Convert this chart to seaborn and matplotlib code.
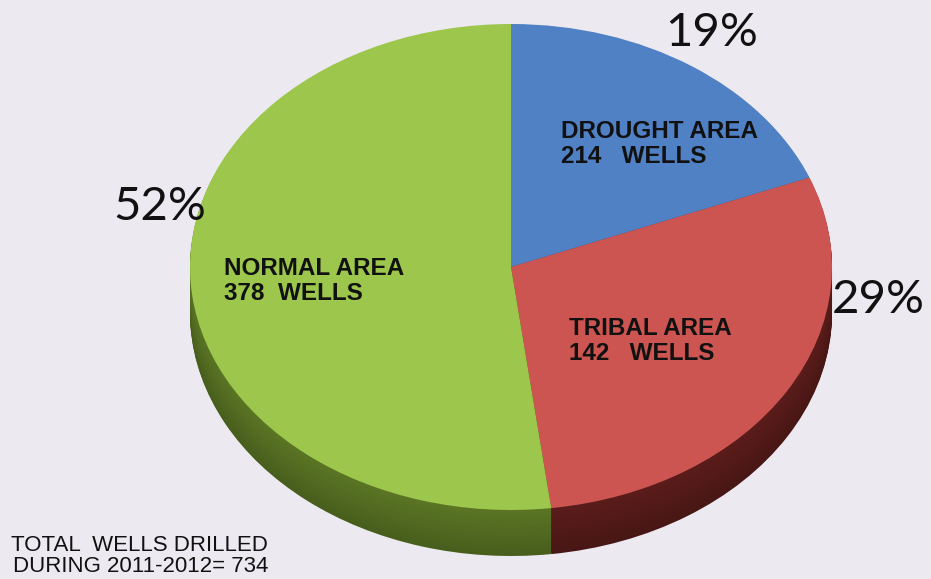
import numpy as np
import matplotlib
matplotlib.use("Agg")
import matplotlib.pyplot as plt
import seaborn as sns

# Wells drilled during 2011-2012, by area
areas = ["DROUGHT AREA", "TRIBAL AREA", "NORMAL AREA"]
shares = [19, 29, 52]
share_labels = ["19%", "29%", "52%"]
well_labels = ["214   WELLS", "142   WELLS", "378  WELLS"]
total_wells = 734

top_colors = ["#4f81c4", "#cd5551", "#9cc64c"]
side_colors = ["#2d4c77", "#5a1c1a", "#5a7524"]
bg = "#ece9f0"

sns.set_theme(style="white")
plt.rcParams["font.family"] = ["Liberation Sans", "DejaVu Sans"]

W, H = 931, 579
fig = plt.figure(figsize=(W / 100, H / 100), dpi=100, facecolor=bg)
ax = fig.add_axes([0, 0, 1, 1])
ax.set_facecolor(bg)

# pie extents in pixels (top surface)
cx, cy, rx, ry = 511, 267, 321, 243
depth = 46 / ry

# side wall: a stack of darker pies sinking below the top surface
for i, d in enumerate(np.linspace(-depth, -0.004, 40)):
    shade = 0.8 + 0.2 * i / 39
    cols = [tuple(min(1, c * shade) for c in matplotlib.colors.to_rgb(s)) for s in side_colors]
    ax.pie(shares, colors=cols, startangle=90, counterclock=False,
           center=(0, d), radius=1, frame=True,
           wedgeprops=dict(linewidth=0))

# top surface
ax.pie(shares, colors=top_colors, startangle=90, counterclock=False,
       center=(0, 0), radius=1, frame=True,
       wedgeprops=dict(linewidth=0))

ax.set_aspect("auto")
ax.set_xlim(-cx / rx, (W - cx) / rx)
ax.set_ylim(-(H - cy) / ry, cy / ry)
ax.axis("off")


def px(x, y):
    return x / W, 1 - y / H


# percentage labels
pct_pos = [(712, 33), (878, 300), (160, 207)]
for lab, (x, y) in zip(share_labels, pct_pos):
    fig.text(*px(x, y), lab, fontsize=34, family=["Lato", "DejaVu Sans"],
             color="#111111", ha="center", va="center")

# area / well-count labels
name_pos = [(561, 144), (569, 341), (224, 281)]
for name, wells, (x, y) in zip(areas, well_labels, name_pos):
    fig.text(*px(x, y), f"{name}\n{wells}", fontsize=17.5, fontweight="bold",
             color="#111111", ha="left", va="center", linespacing=1.1)

fig.text(*px(268, 556), f"TOTAL  WELLS DRILLED\nDURING 2011-2012= {total_wells}",
         fontsize=16, color="#111111", ha="right", va="center",
         multialignment="right", linespacing=0.98)

fig.savefig("out.png", dpi=100, facecolor=bg)
